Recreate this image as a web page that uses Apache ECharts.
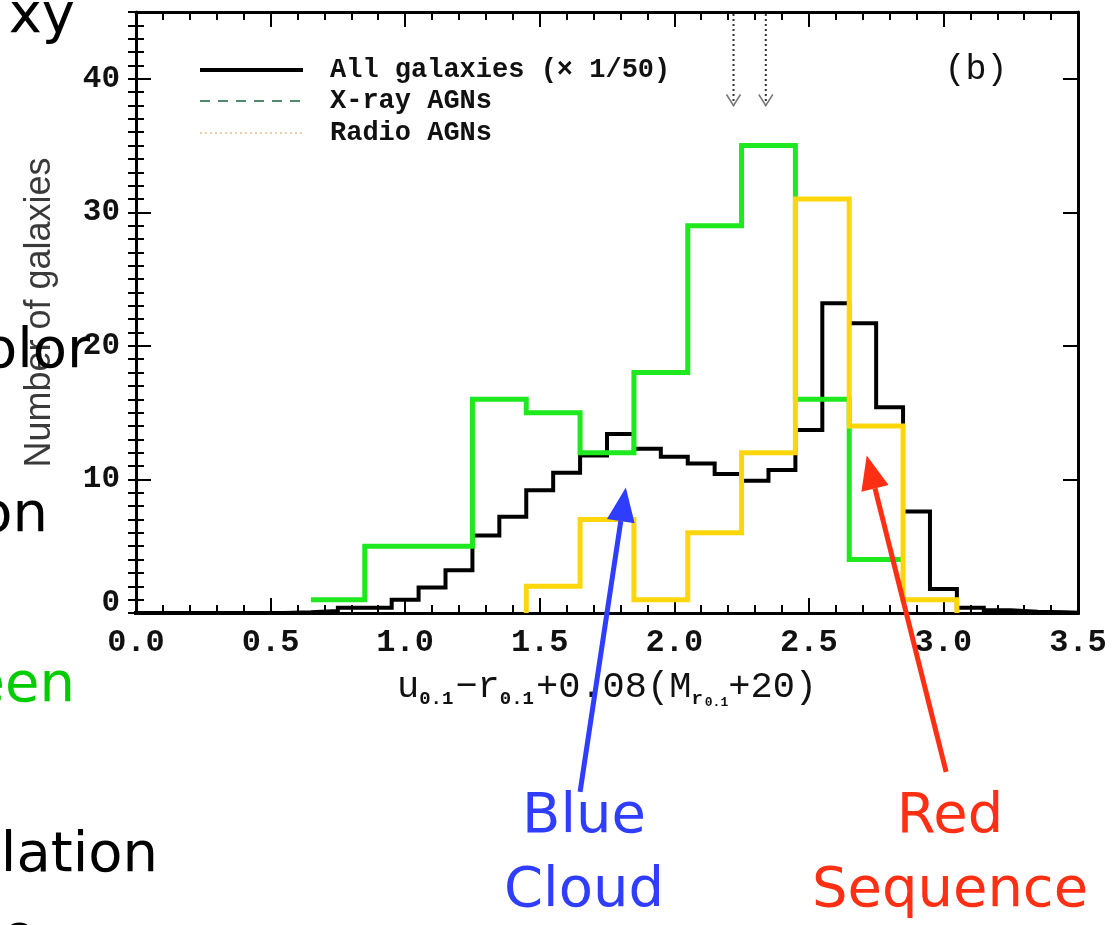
<!DOCTYPE html>
<html>
<head>
<meta charset="utf-8">
<script src="https://cdn.jsdelivr.net/npm/echarts@6/dist/echarts.min.js"></script>
<style>
  html, body { margin: 0; padding: 0; background: #fff; }
  #chart { width: 1120px; height: 925px; }
</style>
</head>
<body>
<div id="chart"></div>
<script>
// ---- data ----------------------------------------------------------------
// All galaxies (counts divided by 50), bins 0.1 wide
const allCenters = [0.0, 0.1, 0.2, 0.3, 0.4, 0.5, 0.6, 0.7, 0.8, 0.9,
                    1.0, 1.1, 1.2, 1.3, 1.4, 1.5, 1.6, 1.7, 1.8, 1.9,
                    2.0, 2.1, 2.2, 2.3, 2.4, 2.5, 2.6, 2.7, 2.8, 2.9,
                    3.0, 3.1, 3.2, 3.3, 3.4, 3.5];
const allCounts  = [0, 0, 0, 0, 0, 0, 0.05, 0.15, 0.4, 0.4,
                    1.0, 1.9, 3.2, 5.8, 7.2, 9.2, 10.5, 11.8, 13.4, 12.3,
                    11.7, 11.2, 10.4, 9.9, 10.7, 13.7, 23.2, 21.7, 15.4, 7.6,
                    1.8, 0.4, 0.2, 0.1, 0.05, 0];
const allWidth = 0.1;

// X-ray AGNs, bins 0.2 wide
const xrayCenters = [0.75, 0.95, 1.15, 1.35, 1.55, 1.75, 1.95, 2.15, 2.35, 2.55, 2.75];
const xrayCounts  = [1, 5, 5, 16, 15, 12, 18, 29, 35, 16, 4];
const xrayWidth = 0.2;

// Radio AGNs, bins 0.2 wide
const radioCenters = [1.55, 1.75, 1.95, 2.15, 2.35, 2.55, 2.75, 2.95];
const radioCounts  = [2, 7, 1, 6, 12, 31, 14, 1];
const radioWidth = 0.2;

// colour cuts marked with dotted arrows along the top edge
const cutMarks = [2.22, 2.34];
const cutArrowTip = 38;

// axis ranges and labels
const xMin = 0, xMax = 3.5, xStep = 0.5;
const yMin = 0, yMax = 45, yStep = 10, yMinorStep = 1;
const xTickLabels = ['0.0', '0.5', '1.0', '1.5', '2.0', '2.5', '3.0', '3.5'];

const legendNames = ['All galaxies (\u00d7 1/50)', 'X-ray AGNs', 'Radio AGNs'];
const panelTag = '(b)';

// ---- helpers -------------------------------------------------------------
// Turn bin centres + counts into the vertices of a stepped outline.
function stepOutline(centers, counts, width, riseFromZero, dropToZero) {
  const pts = [];
  if (riseFromZero) pts.push([centers[0] - width / 2, 0]);
  centers.forEach((c, i) => {
    pts.push([c - width / 2, counts[i]]);
    pts.push([c + width / 2, counts[i]]);
  });
  if (dropToZero) pts.push([centers[centers.length - 1] + width / 2, 0]);
  return pts;
}

const monoFont = '"Liberation Mono", "DejaVu Sans Mono", monospace';
const slideFont = '"DejaVu Sans", "Liberation Sans", sans-serif';

const chart = echarts.init(document.getElementById('chart'), null, { renderer: 'canvas' });

const frameLine = { show: true, onZero: false, lineStyle: { color: '#000', width: 3 } };

function xAxisCfg(pos, withLabels) {
  return {
    type: 'value', position: pos, min: xMin, max: xMax, interval: xStep,
    axisLine: frameLine,
    axisTick: { show: true, inside: true, length: 15, lineStyle: { color: '#000', width: 2 } },
    minorTick: { show: true, splitNumber: 5, length: 8, lineStyle: { color: '#000', width: 2 } },
    splitLine: { show: false }, minorSplitLine: { show: false },
    axisLabel: withLabels ? {
      show: true, margin: 14,
      formatter: v => xTickLabels[Math.round((v - xMin) / xStep)] || '',
      fontFamily: monoFont, fontWeight: 'bold', fontSize: 32, color: '#111'
    } : { show: false }
  };
}

function yAxisCfg(pos, step, tickLen, withLabels, withLine) {
  return {
    type: 'value', position: pos, min: yMin, max: yMax, interval: step,
    axisLine: withLine ? frameLine : { show: false },
    axisTick: { show: true, inside: true, length: tickLen, lineStyle: { color: '#000', width: 2 } },
    splitLine: { show: false },
    axisLabel: withLabels ? {
      show: true, margin: 16, showMaxLabel: false,
      formatter: v => (v === 0 ? '{z|0}' : (v % yStep === 0 ? String(v) : '')),
      fontFamily: monoFont, fontWeight: 'bold', fontSize: 31, color: '#111',
      rich: { z: { fontFamily: monoFont, fontWeight: 'bold', fontSize: 31, color: '#111', padding: [0, 0, 20, 0] } }
    } : { show: false }
  };
}

const option = {
  backgroundColor: '#fff',
  animation: false,
  grid: { left: 136, right: 42, top: 12, bottom: 312, containLabel: false },
  xAxis: [
    Object.assign(xAxisCfg('bottom', true), {
      name: '{m|u}{s|0.1}{m|\u2212r}{s|0.1}{m|+0.08(M}{s|r}{ss|0.1}{m|+20)}',
      nameLocation: 'middle', nameGap: 52,
      nameTextStyle: {
        rich: {
          m: { fontFamily: monoFont, fontSize: 37, color: '#111', lineHeight: 44, verticalAlign: 'middle' },
          s: { fontFamily: monoFont, fontWeight: 'bold', fontSize: 19, color: '#111', verticalAlign: 'bottom', lineHeight: 44, padding: [0, 2, 0, 0] },
          ss: { fontFamily: monoFont, fontWeight: 'bold', fontSize: 13, color: '#111', verticalAlign: 'bottom', lineHeight: 42 }
        }
      }
    }),
    xAxisCfg('top', false)
  ],
  yAxis: [
    Object.assign(yAxisCfg('left', yStep, 15, true, true), {
      name: 'Number of galaxies', nameLocation: 'middle', nameRotate: 90, nameGap: 78,
      nameTextStyle: { fontFamily: '"Liberation Sans", Arial, sans-serif', fontSize: 36, color: '#3a3a3a' }
    }),
    yAxisCfg('left', yMinorStep, 8, false, false),
    yAxisCfg('right', yStep, 15, false, true),
    yAxisCfg('right', yMinorStep, 8, false, false)
  ],
  series: [
    {
      name: legendNames[0], type: 'line', xAxisIndex: 0, yAxisIndex: 0, z: 2,
      data: stepOutline(allCenters, allCounts, allWidth, false, false),
      showSymbol: false, symbol: 'none', clip: true,
      lineStyle: { color: '#000', width: 4, join: 'miter' }
    },
    {
      name: legendNames[1], type: 'line', xAxisIndex: 0, yAxisIndex: 0, z: 3,
      data: stepOutline(xrayCenters, xrayCounts, xrayWidth, false, false),
      showSymbol: false, symbol: 'none', clip: true,
      lineStyle: { color: '#1ee81e', width: 5, join: 'miter' }
    },
    {
      name: legendNames[2], type: 'line', xAxisIndex: 0, yAxisIndex: 0, z: 4,
      data: stepOutline(radioCenters, radioCounts, radioWidth, true, true),
      showSymbol: false, symbol: 'none', clip: true,
      lineStyle: { color: '#ffd60a', width: 5, join: 'miter' }
    },
    {
      type: 'custom', xAxisIndex: 0, yAxisIndex: 0, z: 5, clip: false,
      data: cutMarks.map(x => [x, cutArrowTip]),
      encode: { x: 0, y: 1 },
      renderItem: function (params, api) {
        const x = api.value(0);
        const top = api.coord([x, yMax]);
        const tip = api.coord([x, api.value(1)]);
        return {
          type: 'group',
          children: [
            { type: 'line', shape: { x1: top[0], y1: top[1] + 2, x2: tip[0], y2: tip[1] },
              style: { stroke: '#333', lineWidth: 2, lineDash: [2, 3] } },
            { type: 'polyline', shape: { points: [[tip[0] - 7, tip[1] - 11], [tip[0], tip[1]], [tip[0] + 7, tip[1] - 11]] },
              style: { stroke: '#777', lineWidth: 1.5, fill: null } }
          ]
        };
      }
    }
  ]
};

chart.setOption(option);

// ---- legend, panel tag and slide annotations -----------------------------
const legendX0 = 200, legendX1 = 303, legendTextX = 330;
const legendRows = [70, 101, 133];
const legendStrokes = [
  { stroke: '#000', lineWidth: 4 },
  { stroke: '#4f8a6a', lineWidth: 2, lineDash: [10, 8] },
  { stroke: '#e8cfa6', lineWidth: 2, lineDash: [2, 3] }
];

const graphics = [];
legendNames.forEach((name, i) => {
  graphics.push({ type: 'line', silent: true, z: 10,
    shape: { x1: legendX0, y1: legendRows[i], x2: legendX1, y2: legendRows[i] },
    style: legendStrokes[i] });
  graphics.push({ type: 'text', silent: true, z: 10, x: legendTextX, y: legendRows[i],
    style: { text: name, font: 'bold 27px ' + monoFont, fill: '#111', verticalAlign: 'middle' } });
});
graphics.push({ type: 'text', silent: true, z: 10, x: 976, y: 70,
  style: { text: panelTag, font: '35px ' + monoFont, fill: '#111', align: 'center', verticalAlign: 'middle' } });

// annotation arrows pointing at the two colour populations
const px = p => chart.convertToPixel({ xAxisIndex: 0, yAxisIndex: 0 }, p);
function arrow(tail, tip, color) {
  const a = px(tail), b = px(tip);
  const dx = b[0] - a[0], dy = b[1] - a[1];
  const len = Math.hypot(dx, dy), ux = dx / len, uy = dy / len;
  const headLen = 34, headW = 14;
  const base = [b[0] - ux * headLen, b[1] - uy * headLen];
  graphics.push({ type: 'line', silent: true, z: 20,
    shape: { x1: a[0], y1: a[1], x2: base[0], y2: base[1] },
    style: { stroke: color, lineWidth: 5 } });
  graphics.push({ type: 'polygon', silent: true, z: 20,
    shape: { points: [b, [base[0] - uy * headW, base[1] + ux * headW], [base[0] + uy * headW, base[1] - ux * headW]] },
    style: { fill: color } });
}
arrow([1.65, -13.4], [1.82, 9.4], '#2f3dff');
arrow([3.01, -11.9], [2.715, 11.8], '#ff2f14');

function slideText(text, x, y, color, align) {
  graphics.push({ type: 'text', silent: true, z: 30, x: x, y: y,
    style: { text: text, font: '56px ' + slideFont, fill: color, align: align, verticalAlign: 'middle', lineHeight: 74 } });
}
slideText('Blue\nCloud', 584, 854, '#2f3dff', 'center');
slideText('Red\nSequence', 950, 854, '#ff2f14', 'center');

// fragments of the surrounding slide text, cut by the left edge
slideText('xy', 75, 17, '#000', 'right');
slideText('olor', 90, 352, '#000', 'right');
slideText('on', 48, 516, '#000', 'right');
slideText('een', 75, 686, '#00cc00', 'right');
slideText('lation', 158, 856, '#000', 'right');
slideText('e', 36, 938, '#000', 'right');

chart.setOption({ graphic: graphics });
</script>
</body>
</html>
